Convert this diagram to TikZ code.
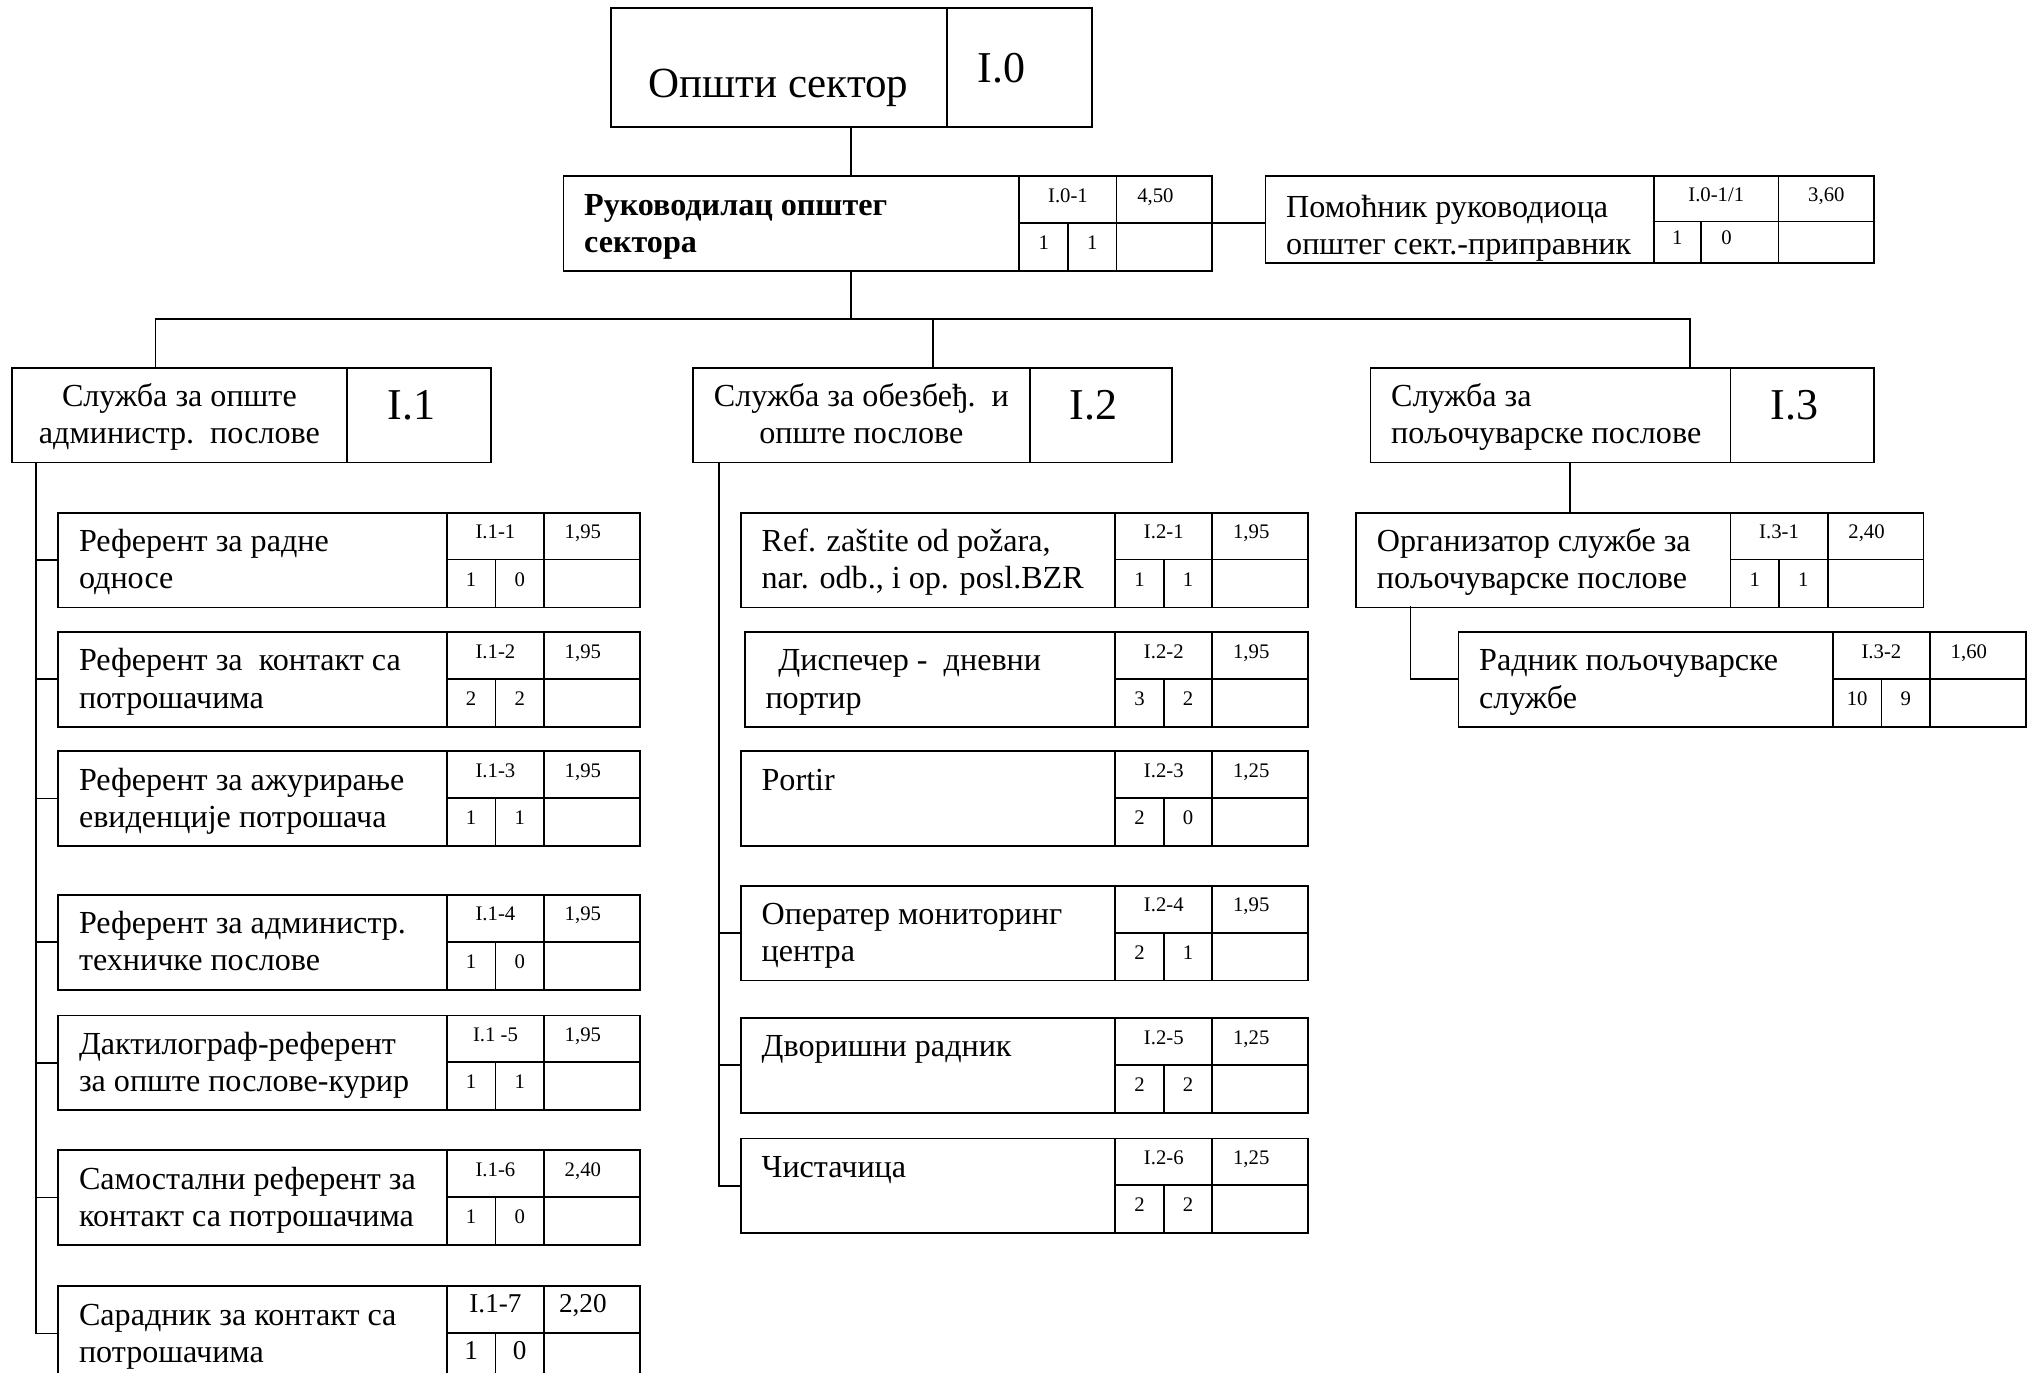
\documentclass[tikz,border=0pt]{standalone}
\usepackage{fontspec}
\setmainfont{Liberation Serif}
\usetikzlibrary{calc,positioning}

\tikzset{
  part/.style={draw,rectangle,inner sep=0pt,outer sep=0pt,anchor=north west},
  cell/.style={part,font=\cellfont},
  jobtext/.style={inner sep=0pt,outer sep=0pt,anchor=north west,align=left,font=\fontsize{12.4}{14.3}\selectfont},
  headtext/.style={inner sep=0pt,outer sep=0pt,anchor=north,align=center,font=\fontsize{12.4}{14.3}\selectfont},
  bignum/.style={inner sep=0pt,outer sep=0pt,anchor=base,font=\fontsize{17}{20}\selectfont},
}
\newcommand\cellfont{\fontsize{8}{9}\selectfont}
\newcommand\celltext[1]{\smash{\raisebox{-1pt}{#1}}}

% job box: name, x, y, text width, text, code, coefficient, count a, count b
\newcommand\job[9]{%
  \node[part,minimum width=#4pt,minimum height=36.5pt] (#1) at (#2,#3) {};
  \node[jobtext] (#1t) at ([shift={(8pt,-6pt)}]#1.north west) {\rule{0pt}{9pt}#5};
  \node[cell,minimum width=37.5pt,minimum height=18pt] (#1c) at (#1.north east) {\celltext{#6}};
  \node[cell,minimum width=37pt,minimum height=18pt] (#1k) at (#1c.north east) {\celltext{#7}\kern7pt};
  \node[cell,minimum width=18.75pt,minimum height=18.5pt] (#1a) at (#1c.south west) {\celltext{#8}};
  \node[cell,minimum width=18.75pt,minimum height=18.5pt] (#1b) at (#1a.north east) {\celltext{#9}};
  \node[cell,minimum width=37pt,minimum height=18.5pt] (#1e) at (#1k.south west) {};
}

\begin{document}
\begin{tikzpicture}[x=0.5pt,y=-0.5pt,line width=0.7pt]
\fill[white] (0,0) rectangle (1568,1060);
\clip (0,0) rectangle (1568,1060);

% sector
\node[part,minimum width=129.5pt,minimum height=46pt] (s0) at (472,6) {};
\node[part,minimum width=56pt,minimum height=46pt] (s0c) at (s0.north east) {};
\node[inner sep=0pt,anchor=base,font=\fontsize{16.6}{20}\selectfont] (s0t) at (601,75) {Општи сектор};
\node[bignum] (s0n) at ([shift={(-7pt,-29pt)}]s0c.north) {I.0};

% head of sector
\job{r}{435}{136}{176}{\bfseries Руководилац општег\\\bfseries сектора}{I.0-1}{4,50}{1}{1}

% assistant
\node[part,minimum width=150pt,minimum height=33.5pt] (p) at (977,136) {};
\begin{scope}
  \clip (p.north west) rectangle (p.south east);
  \node[jobtext] (pt) at ([shift={(8pt,-7pt)}]p.north west) {\rule{0pt}{9pt}Помоћник руководиоца\\општег сект.-приправник};
\end{scope}
\begin{scope}[every node/.append style={font=\fontsize{10}{12}\selectfont}]
  \node[cell,minimum width=48pt,minimum height=17.5pt] (pc) at (p.north east) {\celltext{I.0-1/1}};
  \node[cell,minimum width=37pt,minimum height=17.5pt] (pk) at (pc.north east) {\celltext{3,60}};
  \node[cell,minimum width=18pt,minimum height=16pt] (pa) at (pc.south west) {\celltext{1}};
  \node[cell,minimum width=30pt,minimum height=16pt] (pb) at (pa.north east) {\celltext{0}\kern10pt};
  \node[cell,minimum width=37pt,minimum height=16pt] (pe) at (pk.south west) {};
\end{scope}

% services
\node[part,minimum width=129.5pt,minimum height=36.5pt] (s1) at (9,284) {};
\node[part,minimum width=55.5pt,minimum height=36.5pt] (s1c) at (s1.north east) {};
\node[headtext] (s1t) at ([yshift=-6pt]s1.north) {\rule{0pt}{9pt}Служба за опште\\администр.\ \ послове};
\node[bignum] (s1n) at ([shift={(-3pt,-20pt)}]s1c.north) {I.1};

\node[part,minimum width=130pt,minimum height=36.5pt] (s2) at (535,284) {};
\node[part,minimum width=55pt,minimum height=36.5pt] (s2c) at (s2.north east) {};
\node[headtext] (s2t) at ([yshift=-6pt]s2.north) {\rule{0pt}{9pt}Служба за обезбеђ.\ \ и\\опште послове};
\node[bignum] (s2n) at ([shift={(-3pt,-20pt)}]s2c.north) {I.2};

\node[part,minimum width=139pt,minimum height=36.5pt] (s3) at (1058,284) {};
\node[part,minimum width=55.5pt,minimum height=36.5pt] (s3c) at (s3.north east) {};
\node[jobtext] (s3t) at ([shift={(8pt,-6pt)}]s3.north west) {\rule{0pt}{9pt}Служба за\\пољочуварске послове};
\node[bignum] (s3n) at ([shift={(-3pt,-20pt)}]s3c.north) {I.3};

% jobs of I.1
\job{a1}{45}{396}{150}{Референт за радне\\односе}{I.1-1}{1,95}{1}{0}
\job{a2}{45}{488}{150}{Референт за\ \ контакт са\\потрошачима}{I.1-2}{1,95}{2}{2}
\job{a3}{45}{580}{150}{Референт за ажурирање\\евиденције потрошача}{I.1-3}{1,95}{1}{1}
\job{a4}{45}{691}{150}{Референт за администр.\\техничке послове}{I.1-4}{1,95}{1}{0}
\job{a5}{45}{784}{150}{Дактилограф-референт\\за опште послове-курир}{I.1 -5}{1,95}{1}{1}
\job{a6}{45}{888}{150}{Самостални референт за\\контакт са потрошачима}{I.1-6}{2,40}{1}{0}
\begin{scope}
  \renewcommand\cellfont{\fontsize{10.5}{12}\selectfont}
  \job{a7}{45}{993}{150}{Сарадник за контакт са\\потрошачима}{I.1-7}{2,20}{1}{0}
\end{scope}

% jobs of I.2
\job{b1}{572}{396}{144.5}{Ref. zaštite od požara,\\nar. odb., i op. posl.BZR}{I.2-1}{1,95}{1}{1}
\job{b2}{575}{488}{143}{\hspace*{5pt}Диспечер -\ \ дневни\\портир}{I.2-2}{1,95}{3}{2}
\job{b3}{572}{580}{144.5}{Portir}{I.2-3}{1,25}{2}{0}
\job{b4}{572}{684}{144.5}{Оператер мониторинг\\центра}{I.2-4}{1,95}{2}{1}
\job{b5}{572}{786}{144.5}{Дворишни радник}{I.2-5}{1,25}{2}{2}
\job{b6}{572}{879}{144.5}{Чистачица}{I.2-6}{1,25}{2}{2}

% jobs of I.3
\job{c1}{1047}{396}{144.5}{Организатор службе за\\пољочуварске послове}{I.3-1}{2,40}{1}{1}
\job{c2}{1126}{488}{144.5}{Радник пољочуварске\\службе}{I.3-2}{1,60}{10}{9}

% connectors
\coordinate (b0) at (657,246);
\coordinate (b1) at (120,246);
\coordinate (b2) at (720,246);
\coordinate (b3) at (1305,246);
\draw (b0 |- s0.south) -- (b0 |- r.north);
\draw (b0 |- r.south) -- (b0);
\draw (b1 |- s1.north) |- (b0) -| (b3 |- s3.north);
\draw (b2) -- (b2 |- s2.north);
\draw (rk.south east) -- (rk.south east -| p.west);

\coordinate (l1) at (28,357);
\draw (l1) |- (a7.west);
\foreach \n in {a1,a2,a3,a4,a5,a6} {
  \draw (l1 |- \n.west) -- (\n.west);
}
\coordinate (l2) at (555,357);
\draw (l2) |- (b6.west);
\foreach \n in {b1,b2,b3,b4,b5} {
  \draw (l2 |- \n.west) -- (\n.west);
}
\coordinate (l3) at (1212,357);
\draw (l3) -- (l3 |- c1.north);
\coordinate (l4) at (1089,468);
\draw (l4) |- (c2.west);

\end{tikzpicture}
\end{document}
